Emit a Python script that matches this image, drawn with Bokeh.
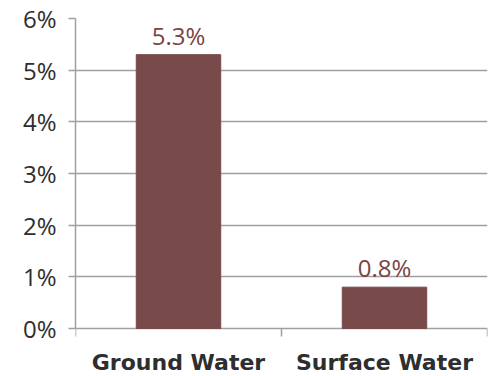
from bokeh.plotting import figure
from bokeh.models import ColumnDataSource, FixedTicker, Range1d, LabelSet
from bokeh.core.properties import value
from bokeh.embed import file_html
from bokeh.resources import INLINE

# Share of samples, in percent, by water source
categories = ["Ground Water", "Surface Water"]
values = [5.3, 0.8]
value_labels = ["5.3%", "0.8%"]
y_ticks = [0, 1, 2, 3, 4, 5, 6]
y_tick_labels = ["0%", "1%", "2%", "3%", "4%", "5%", "6%"]

BAR = "#784a4a"
LABEL = "#7a4444"
GRID = "#a0a0a0"
TEXT = "#2e2e2e"
FONT = "Open Sans"
CAT_FONT = "DejaVu Sans"

# layout in pixels
W, H = 498, 376
LEFT, RIGHT, TOP = 75, 11, 18
PLOT_H = 310            # height of the 0..6 % band
BELOW = H - TOP - PLOT_H  # room under the zero line for the category names
TICK_PX = 8

ymax = max(y_ticks)
unit = PLOT_H / ymax      # pixels per percent
ymin = -BELOW / unit
tick = TICK_PX / unit

n = len(categories)
positions = [i + 0.5 for i in range(n)]
bounds = list(range(n + 1))

src = ColumnDataSource(dict(x=positions, top=values, label=value_labels))
cat_src = ColumnDataSource(dict(x=positions, y=[0] * n, name=categories))

p = figure(width=W, height=H, output_backend="svg", toolbar_location=None,
           x_range=Range1d(0, n), y_range=Range1d(ymin, ymax),
           x_axis_location=None,
           min_border_left=LEFT, min_border_right=RIGHT, min_border_top=TOP,
           min_border_bottom=0)
p.outline_line_color = None
p.background_fill_color = "white"
p.border_fill_color = "white"

p.xgrid.grid_line_color = None
p.ygrid.ticker = FixedTicker(ticks=y_ticks)
p.ygrid.grid_line_color = GRID
p.ygrid.grid_line_width = 1.5

# category axis: zero line is a grid line; tick marks between categories
p.segment(x0=bounds, y0=[0] * len(bounds), x1=bounds, y1=[-tick] * len(bounds),
          line_color=GRID, line_width=1.5)

p.vbar(x="x", top="top", width=0.41, bottom=0, source=src,
       fill_color=BAR, line_color=BAR)

# value above each bar
p.add_layout(LabelSet(x="x", y="top", text="label", source=src, text_align="center",
                      text_baseline="bottom", y_offset=3, text_color=LABEL,
                      text_font=value(FONT), text_font_size="24px"))

# category names under the axis
p.add_layout(LabelSet(x="x", y="y", text="name", source=cat_src, text_align="center",
                      text_baseline="top", y_offset=-21, text_color=TEXT,
                      text_font=value(CAT_FONT), text_font_style="bold",
                      text_font_size="22px"))

# y axis: percent ticks with outward tick marks
p.yaxis.bounds = (0, ymax)
p.yaxis.ticker = FixedTicker(ticks=y_ticks)
p.yaxis.major_label_overrides = {t: s for t, s in zip(y_ticks, y_tick_labels)}
p.yaxis.major_tick_in = 0
p.yaxis.major_tick_out = 7
p.yaxis.minor_tick_line_color = None
p.yaxis.axis_line_color = GRID
p.yaxis.axis_line_width = 1.5
p.yaxis.major_tick_line_color = GRID
p.yaxis.major_tick_line_width = 1.5
p.yaxis.major_label_text_font = FONT
p.yaxis.major_label_text_font_size = "24px"
p.yaxis.major_label_text_color = TEXT
p.yaxis.major_label_standoff = 12

open("out.html", "w").write(file_html(p, INLINE))
